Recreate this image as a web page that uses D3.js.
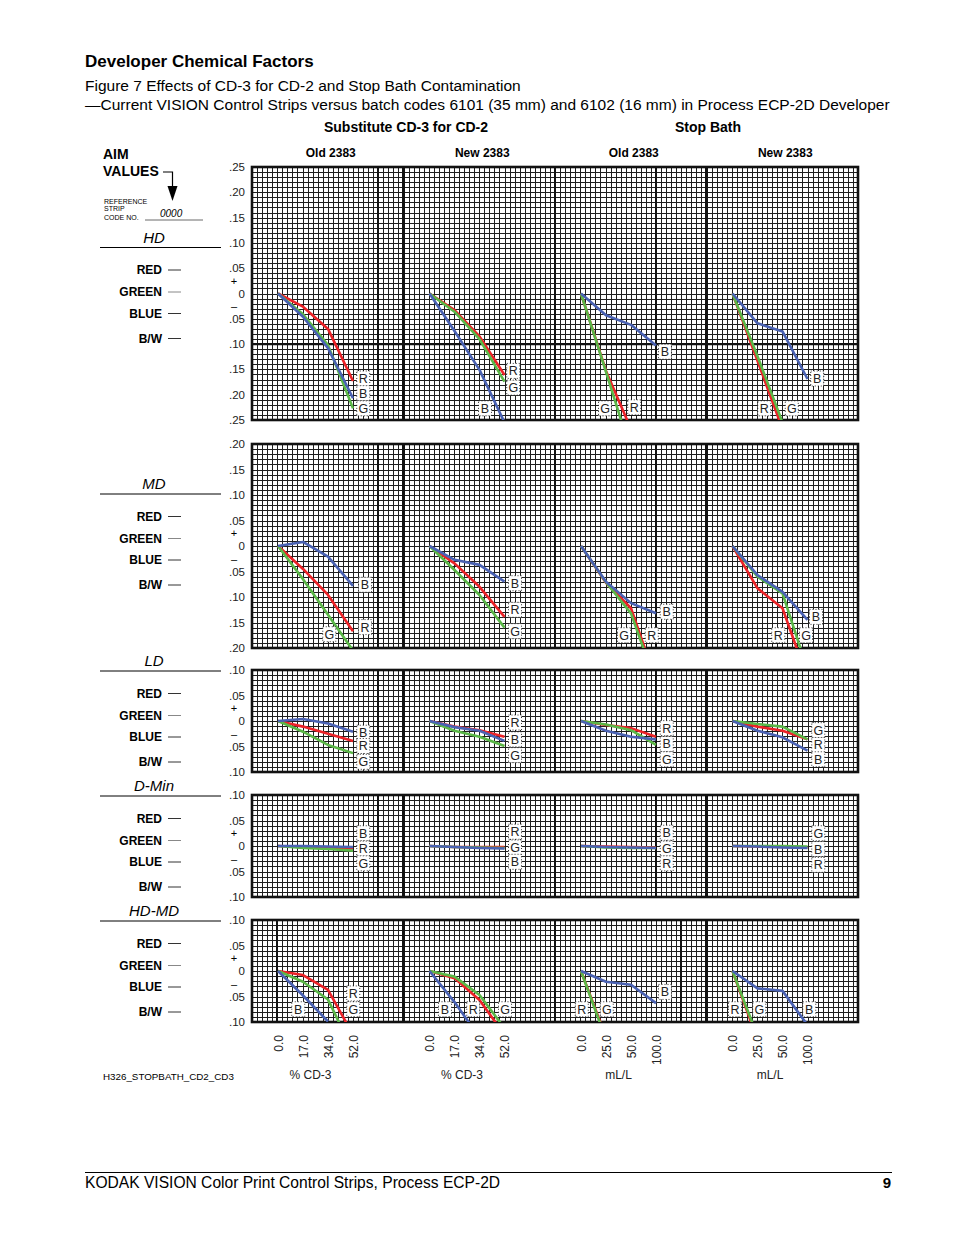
<!DOCTYPE html>
<html>
<head>
<meta charset="utf-8">
<script src="https://cdn.jsdelivr.net/npm/d3@7"></script>
<style>
body { margin: 0; background: #fff; }
svg { display: block; font-family: "Liberation Sans", Arial, Helvetica, sans-serif; }
</style>
</head>
<body>
<svg id="chart" width="954" height="1235"></svg>
<script>
//Textos y categorias
const panelNames = ['Old 2383', 'New 2383', 'Old 2383', 'New 2383'];
const groupNames = ['Substitute CD-3 for CD-2', 'Stop Bath'];
const cd3Ticks = ['0.0', '17.0', '34.0', '52.0'];
const stopTicks = ['0.0', '25.0', '50.0', '100.0'];
const axisTitles = ['% CD-3', '% CD-3', 'mL/L', 'mL/L'];
const rowNames = ['HD', 'MD', 'LD', 'D-Min', 'HD-MD'];
const rowLimits = [0.25, 0.20, 0.10, 0.10, 0.10];
const channelNames = ['RED', 'GREEN', 'BLUE', 'B/W'];

//Valores (una fila por panel: Old/New 2383 CD-3, Old/New 2383 Stop Bath)
const hdRed   = [[0, -0.026, -0.070, -0.173], [0, -0.033, -0.085, -0.161], [0, -0.153, -0.268], [0, -0.133, -0.268]];
const hdGreen = [[0, -0.041, -0.102, -0.227], [0, -0.036, -0.090, -0.174], [0, -0.155, -0.313], [0, -0.124, -0.255]];
const hdBlue  = [[0, -0.046, -0.108, -0.207], [0, -0.074, -0.151, -0.255], [0, -0.043, -0.062, -0.103], [0, -0.059, -0.075, -0.169]];

const mdRed   = [[0, -0.045, -0.096, -0.167], [0, -0.034, -0.080, -0.139], [0, -0.072, -0.122, -0.265], [0, -0.083, -0.122, -0.260]];
const mdGreen = [[0, -0.065, -0.135, -0.205], [0, -0.047, -0.096, -0.160], [0, -0.071, -0.132, -0.270], [0, -0.060, -0.093, -0.243]];
const mdBlue  = [[0, 0.008, -0.021, -0.078], [0, -0.027, -0.037, -0.070], [0, -0.070, -0.112, -0.132], [0, -0.057, -0.090, -0.145]];

const ldRed   = [[0, -0.011, -0.025, -0.039], [0, -0.011, -0.018, -0.031], [0, -0.008, -0.014, -0.031], [0, -0.011, -0.019, -0.036]];
const ldGreen = [[0, -0.021, -0.047, -0.063], [0, -0.019, -0.031, -0.049], [0, -0.007, -0.018, -0.047], [0, -0.006, -0.011, -0.036]];
const ldBlue  = [[0, 0.004, -0.005, -0.021], [0, -0.012, -0.019, -0.039], [0, -0.019, -0.031, -0.036], [0, -0.019, -0.032, -0.058]];

const dminRed   = [[0, -0.002, -0.003, -0.005], [0, -0.002, -0.002, -0.002], [0, -0.001, -0.002, -0.003], [0, -0.001, -0.002, -0.003]];
const dminGreen = [[0, -0.004, -0.006, -0.009], [0, -0.002, -0.003, -0.004], [0, -0.003, -0.004, -0.004], [0, 0, 0, -0.001]];
const dminBlue  = [[0, 0, -0.001, -0.002], [0, -0.002, -0.004, -0.005], [0, -0.002, -0.003, -0.004], [0, -0.001, -0.003, -0.004]];

const hdmdRed   = [[0, -0.008, -0.037, -0.125], [0, -0.014, -0.057, -0.125], [0, -0.130], [0, -0.135]];
const hdmdGreen = [[0, -0.021, -0.056, -0.157], [0, -0.011, -0.047, -0.112], [0, -0.134], [0, -0.128]];
const hdmdBlue  = [[0, -0.048, -0.099], [0, -0.061, -0.130], [0, -0.021, -0.027, -0.063], [0, -0.034, -0.039, -0.106]];

//Etiquetas R/G/B: [letra, posicion en x (indice), valor]
const hdLabels = [
    [['R', 3.41, -0.168], ['B', 3.41, -0.197], ['G', 3.41, -0.227]],
    [['R', 3.35, -0.153], ['G', 3.35, -0.186], ['B', 2.22, -0.227]],
    [['B', 3.36, -0.115], ['G', 0.96, -0.227], ['R', 2.13, -0.225]],
    [['B', 3.39, -0.168], ['R', 1.27, -0.227], ['G', 2.37, -0.227]]
];
const mdLabels = [
    [['B', 3.48, -0.076], ['R', 3.48, -0.159], ['G', 2.05, -0.173]],
    [['B', 3.42, -0.073], ['R', 3.42, -0.125], ['G', 3.42, -0.167]],
    [['B', 3.43, -0.129], ['G', 1.72, -0.175], ['R', 2.83, -0.175]],
    [['B', 3.34, -0.139], ['R', 1.83, -0.175], ['G', 2.94, -0.175]]
];
const ldLabels = [
    [['B', 3.41, -0.023], ['R', 3.41, -0.049], ['G', 3.41, -0.080]],
    [['R', 3.42, -0.003], ['B', 3.42, -0.036], ['G', 3.42, -0.067]],
    [['R', 3.43, -0.014], ['B', 3.43, -0.045], ['G', 3.43, -0.075]],
    [['G', 3.43, -0.018], ['R', 3.43, -0.047], ['B', 3.43, -0.075]]
];
const dminLabels = [
    [['B', 3.41, 0.025], ['R', 3.41, -0.005], ['G', 3.41, -0.034]],
    [['R', 3.42, 0.028], ['G', 3.42, -0.003], ['B', 3.42, -0.031]],
    [['B', 3.43, 0.026], ['G', 3.43, -0.005], ['R', 3.43, -0.034]],
    [['G', 3.43, 0.025], ['B', 3.43, -0.006], ['R', 3.43, -0.037]]
];
const hdmdLabels = [
    [['B', 0.81, -0.075], ['R', 3.01, -0.044], ['G', 3.01, -0.075]],
    [['B', 0.62, -0.075], ['R', 1.75, -0.075], ['G', 3.02, -0.075]],
    [['R', 0.03, -0.075], ['G', 1.03, -0.075], ['B', 3.36, -0.041]],
    [['R', 0.10, -0.075], ['G', 1.07, -0.075], ['B', 3.07, -0.075]]
];

//Colores fijos
const COLOR_RED = '#ec2227',
    COLOR_GREEN = '#5bb848',
    COLOR_BLUE = '#4a62b3',
    COLOR_GRID = '#1e1e1e';

let svg = d3.select('#chart');

//Geometria general
const gridLeft = 252, gridRight = 858;
const panelW = (gridRight - gridLeft) / 4;
const colW = panelW / 30;
const rowTop = [167, 444, 670, 795, 920];
const rowBottom = [420, 648, 772, 897, 1022];
const nameLineY = [247.5, 494, 671, 796, 921];
const thickCols = [[25, 80], [25, 80], [25, 80], [25, 80], [5, 85]];

const rowData = [
    { red: hdRed, green: hdGreen, blue: hdBlue, labels: hdLabels },
    { red: mdRed, green: mdGreen, blue: mdBlue, labels: mdLabels },
    { red: ldRed, green: ldGreen, blue: ldBlue, labels: ldLabels },
    { red: dminRed, green: dminGreen, blue: dminBlue, labels: dminLabels },
    { red: hdmdRed, green: hdmdGreen, blue: hdmdBlue, labels: hdmdLabels }
];

function xScale(p) {
    let left = gridLeft + p * panelW;
    return d3.scaleLinear().domain([0, 3]).range([left + 26, left + 101]);
}

let fmt = d3.format('.2f');
function tickText(v) {
    if (Math.abs(v) < 1e-9) return '0';
    return fmt(Math.abs(v)).replace(/^0/, '');
}

//Titulos
svg.append('text').attr('x', 85).attr('y', 67).attr('font-size', 17).attr('font-weight', 'bold')
    .text('Developer Chemical Factors');
svg.append('text').attr('x', 85).attr('y', 91).attr('font-size', 15.5)
    .text('Figure 7 Effects of CD-3 for CD-2 and Stop Bath Contamination');
svg.append('text').attr('x', 85).attr('y', 110).attr('font-size', 15.5)
    .text('\u2014Current VISION Control Strips versus batch codes 6101 (35 mm) and 6102 (16 mm) in Process ECP-2D Developer');

groupNames.forEach(function(g, i) {
    svg.append('text')
        .attr('x', i == 0 ? 406 : 708).attr('y', 132)
        .attr('font-size', 14).attr('font-weight', 'bold').attr('text-anchor', 'middle')
        .text(g);
});

panelNames.forEach(function(p, i) {
    svg.append('text')
        .attr('x', gridLeft + i * panelW + panelW / 2 + 3).attr('y', 157)
        .attr('font-size', 12).attr('font-weight', 'bold').attr('text-anchor', 'middle')
        .text(p);
});

//AIM VALUES
svg.append('text').attr('x', 103).attr('y', 159).attr('font-size', 14).attr('font-weight', 'bold').text('AIM');
svg.append('text').attr('x', 103).attr('y', 176).attr('font-size', 14).attr('font-weight', 'bold').text('VALUES');
svg.append('path').attr('d', 'M163,172H172.5V188').attr('fill', 'none').attr('stroke', '#000').attr('stroke-width', 1.2);
svg.append('path').attr('d', 'M167.5,186L177.5,186L172.5,201Z').attr('fill', '#000');
['REFERENCE', 'STRIP', 'CODE NO.'].forEach(function(t, i) {
    svg.append('text').attr('x', 104).attr('y', [204, 211, 220][i]).attr('font-size', 7).text(t);
});
svg.append('text').attr('x', 160).attr('y', 217).attr('font-size', 10).attr('font-style', 'italic').text('0000');
svg.append('line').attr('x1', 145).attr('x2', 203).attr('y1', 220).attr('y2', 220)
    .attr('stroke', '#444').attr('stroke-width', 0.8);

let defs = svg.append('defs');

//Filas
rowNames.forEach(function(name, r) {
    let lim = rowLimits[r];
    let y = d3.scaleLinear().domain([-lim, lim]).range([rowBottom[r], rowTop[r]]);
    let g = svg.append('g').attr('class', 'row_' + r);

    //Etiquetas izquierda
    g.append('text')
        .attr('x', 154).attr('y', nameLineY[r] - 5)
        .attr('font-size', 15).attr('font-style', 'italic').attr('text-anchor', 'middle')
        .text(name);
    g.append('line')
        .attr('x1', 100).attr('x2', 221).attr('y1', nameLineY[r]).attr('y2', nameLineY[r])
        .attr('stroke', '#000').attr('stroke-width', 1);

    channelNames.forEach(function(c, i) {
        let cy = nameLineY[r] + [22.5, 44.5, 66, 91][i];
        g.append('text')
            .attr('x', 162).attr('y', cy + 4)
            .attr('font-size', 12).attr('font-weight', 'bold').attr('text-anchor', 'end')
            .text(c);
        g.append('line')
            .attr('x1', 168).attr('x2', 181).attr('y1', cy).attr('y2', cy)
            .attr('stroke', i == 1 ? '#888' : '#333').attr('stroke-width', 1);
    });

    //Ticks eje y
    let ticks = d3.range(-Math.round(lim * 20), Math.round(lim * 20) + 1).map(function(k) { return k * 0.05; });
    g.selectAll('.ytick')
        .data(ticks)
        .enter()
        .append('text')
        .attr('class', 'ytick')
        .attr('x', 245)
        .attr('y', function(d) { return y(d) + 4; })
        .attr('font-size', 11.5)
        .attr('fill', '#222')
        .attr('text-anchor', 'end')
        .text(function(d) { return tickText(d); });
    g.append('text').attr('x', 234).attr('y', y(0.025) + 4).attr('font-size', 11)
        .attr('text-anchor', 'middle').text('+');
    g.append('text').attr('x', 234).attr('y', y(-0.025) + 4).attr('font-size', 11)
        .attr('text-anchor', 'middle').text('\u2013');

    //Reticula
    let grid = g.append('g').attr('shape-rendering', 'crispEdges');
    let hVals = d3.range(-Math.round(lim * 100), Math.round(lim * 100) + 1).map(function(k) { return k / 100; });
    grid.selectAll('.h')
        .data(hVals)
        .enter()
        .append('line')
        .attr('x1', gridLeft).attr('x2', gridRight)
        .attr('y1', function(d) { return Math.round(y(d)) + 0.5; })
        .attr('y2', function(d) { return Math.round(y(d)) + 0.5; })
        .attr('stroke', COLOR_GRID).attr('stroke-width', 1);
    grid.selectAll('.v')
        .data(d3.range(0, 121))
        .enter()
        .append('line')
        .attr('x1', function(d) { return Math.round(gridLeft + d * colW) + 0.5; })
        .attr('x2', function(d) { return Math.round(gridLeft + d * colW) + 0.5; })
        .attr('y1', rowTop[r]).attr('y2', rowBottom[r])
        .attr('stroke', COLOR_GRID).attr('stroke-width', 1);

    //Lineas gruesas
    grid.selectAll('.vt')
        .data([0, 30, 60, 90, 120].concat(thickCols[r]))
        .enter()
        .append('line')
        .attr('x1', function(d) { return gridLeft + d * colW; })
        .attr('x2', function(d) { return gridLeft + d * colW; })
        .attr('y1', rowTop[r]).attr('y2', rowBottom[r])
        .attr('stroke', '#111').attr('stroke-width', function(d) { return d % 30 == 0 ? 2.6 : 2.2; });
    g.append('rect')
        .attr('x', gridLeft).attr('y', rowTop[r])
        .attr('width', gridRight - gridLeft).attr('height', rowBottom[r] - rowTop[r])
        .attr('fill', 'none').attr('stroke', '#111').attr('stroke-width', 2.6);
    if (r == 0) {
        g.append('line')
            .attr('x1', gridLeft).attr('x2', gridRight)
            .attr('y1', y(-0.10)).attr('y2', y(-0.10))
            .attr('stroke', '#111').attr('stroke-width', 2.2);
    }

    //Curvas
    defs.append('clipPath').attr('id', 'clip_' + r)
        .append('rect')
        .attr('x', gridLeft).attr('y', rowTop[r])
        .attr('width', gridRight - gridLeft).attr('height', rowBottom[r] - rowTop[r]);

    let curves = g.append('g').attr('clip-path', 'url(#clip_' + r + ')');
    let series = [
        { key: 'R', values: rowData[r].red, color: COLOR_RED },
        { key: 'G', values: rowData[r].green, color: COLOR_GREEN },
        { key: 'B', values: rowData[r].blue, color: COLOR_BLUE }
    ];

    panelNames.forEach(function(p, pi) {
        let x = xScale(pi);
        let line = d3.line()
            .x(function(d, i) { return x(i); })
            .y(function(d) { return y(d); });
        series.forEach(function(s) {
            curves.append('path')
                .attr('class', 'line line_' + s.key)
                .attr('d', line(s.values[pi]))
                .attr('fill', 'none')
                .attr('stroke', s.color)
                .attr('stroke-width', 2.6)
                .attr('stroke-linejoin', 'round');
        });

        //Etiquetas R G B
        rowData[r].labels[pi].forEach(function(l) {
            let lx = x(l[1]), ly = y(l[2]);
            let lab = g.append('g').attr('transform', 'translate(' + lx + ',' + ly + ')');
            lab.append('rect')
                .attr('x', -6.5).attr('y', -7.5).attr('width', 13).attr('height', 15)
                .attr('fill', '#fff')
                .attr('stroke', '#000').attr('stroke-width', 0.8)
                .attr('stroke-dasharray', '1,2');
            lab.append('text')
                .attr('y', 4.5).attr('text-anchor', 'middle')
                .attr('font-size', 12.5).attr('fill', '#222')
                .text(l[0]);
        });
    });
});

//Eje x
panelNames.forEach(function(p, pi) {
    let x = xScale(pi);
    let labels = pi < 2 ? cd3Ticks : stopTicks;
    svg.selectAll('.xtick_' + pi)
        .data(labels)
        .enter()
        .append('text')
        .attr('transform', function(d, i) { return 'translate(' + (x(i) + 4.5) + ',1035) rotate(-90)'; })
        .attr('text-anchor', 'end')
        .attr('font-size', 12)
        .attr('fill', '#222')
        .text(function(d) { return d; });
    svg.append('text')
        .attr('x', pi < 2 ? x(1.3) : x(1.5)).attr('y', 1079)
        .attr('font-size', 12).attr('text-anchor', 'middle').attr('fill', '#222')
        .text(axisTitles[pi]);
});

svg.append('text').attr('x', 103).attr('y', 1080).attr('font-size', 9.8).text('H326_STOPBATH_CD2_CD3');

//Pie
svg.append('line').attr('x1', 85).attr('x2', 892).attr('y1', 1172.5).attr('y2', 1172.5)
    .attr('stroke', '#000').attr('stroke-width', 1);
svg.append('text').attr('x', 85).attr('y', 1188).attr('font-size', 15.6)
    .text('KODAK VISION Color Print Control Strips, Process ECP-2D');
svg.append('text').attr('x', 891).attr('y', 1188).attr('font-size', 15).attr('font-weight', 'bold')
    .attr('text-anchor', 'end').text('9');
</script>
</body>
</html>
